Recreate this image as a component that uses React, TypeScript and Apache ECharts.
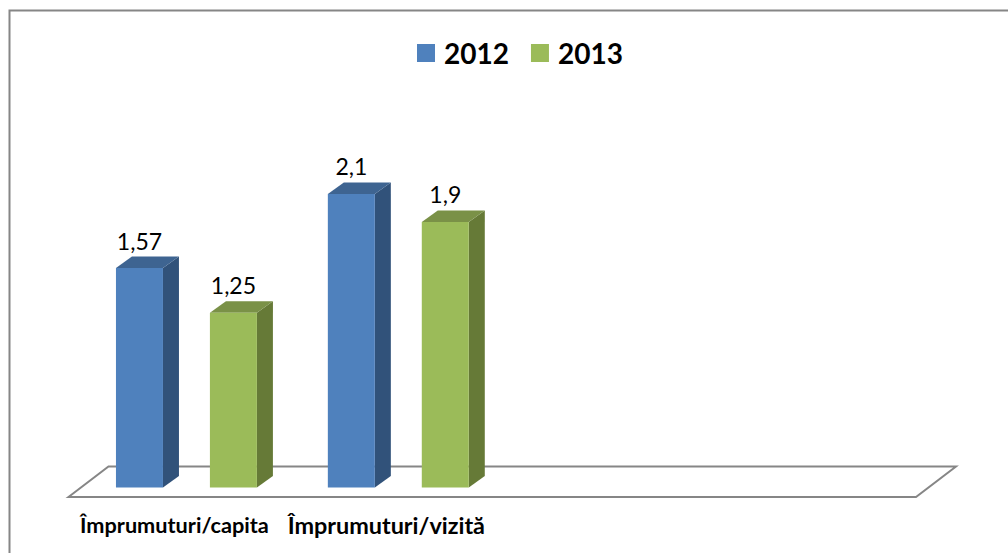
import React, { useEffect, useRef } from "react";
import * as echarts from "echarts";

const categories = ["Împrumuturi/capita", "Împrumuturi/vizită", "", ""];
const values2012 = [1.57, 2.1];
const values2013 = [1.25, 1.9];
const seriesNames = ["2012", "2013"];
const frontColors = ["#4F81BD", "#9BBB59"];
const topColors = ["#3E6491", "#7A9147"];
const sideColors = ["#31527A", "#667A37"];

const FLOOR_DX = 40;
const FLOOR_DY = 30.5;
const BAR_SHIFT_X = 12;
const BAR_SHIFT_Y = -9.5;
const BAR_W = 47;
const DEPTH_X = 16;
const DEPTH_Y = 11.5;

function barRenderer(seriesIndex: number) {
  return (_params: any, api: any) => {
    const cat = api.value(0);
    const val = api.value(1);
    const band = api.size([1, 0])[0];
    const [cx] = api.coord([cat, 0]);
    const [, y0] = api.coord([cat, 0]);
    const [, y1] = api.coord([cat, val]);
    const gap = band * 0.2217;
    const x = cx + BAR_SHIFT_X + (seriesIndex === 0 ? -gap : gap) - BAR_W / 2;
    const top = y1 + BAR_SHIFT_Y;
    const bottom = y0 + BAR_SHIFT_Y;
    return {
      type: "group",
      children: [
        {
          type: "polygon",
          shape: { points: [[x + BAR_W, top], [x + BAR_W + DEPTH_X, top - DEPTH_Y], [x + BAR_W + DEPTH_X, bottom - DEPTH_Y], [x + BAR_W, bottom]] },
          style: { fill: sideColors[seriesIndex] },
        },
        {
          type: "polygon",
          shape: { points: [[x, top], [x + DEPTH_X, top - DEPTH_Y], [x + BAR_W + DEPTH_X, top - DEPTH_Y], [x + BAR_W, top]] },
          style: { fill: topColors[seriesIndex] },
        },
        {
          type: "rect",
          shape: { x, y: top, width: BAR_W, height: bottom - top },
          style: { fill: frontColors[seriesIndex] },
        },
        {
          type: "text",
          x: x + BAR_W / 2,
          y: top - 16,
          style: {
            text: String(val).replace(".", ","),
            fontFamily: "Lato",
            fontSize: 23,
            fill: "#000",
            align: "center",
            verticalAlign: "bottom",
          },
        },
      ],
    };
  };
}

function floorRenderer(params: any, api: any) {
  const c = params.coordSys;
  const bottom = c.y + c.height;
  const left = c.x;
  const right = c.x + c.width;
  return {
    type: "polygon",
    shape: { points: [[left, bottom], [left + FLOOR_DX, bottom - FLOOR_DY], [right + FLOOR_DX, bottom - FLOOR_DY], [right, bottom]] },
    style: { fill: "#fff", stroke: "#868686", lineWidth: 2 },
    z2: 0,
  };
}

export default function App() {
  const ref = useRef<HTMLDivElement>(null);
  useEffect(() => {
    const chart = echarts.init(ref.current!, undefined, { renderer: "svg" });
    chart.setOption({
      animation: false,
      backgroundColor: "#fff",
      graphic: [
        {
          type: "polyline",
          shape: { points: [[9.5, 553], [9.5, 10.5], [1008, 10.5]] },
          style: { stroke: "#868686", lineWidth: 2, fill: "none" },
        },
      ],
      legend: {
        top: 34,
        left: 412,
        itemWidth: 18,
        itemHeight: 18,
        itemGap: 22,
        icon: "rect",
        data: seriesNames.map((name, i) => ({ name, itemStyle: { color: frontColors[i] } })),
        textStyle: { fontFamily: "Lato", fontWeight: "bold", fontSize: 28, color: "#000", padding: [2, 0, 0, 4] },
      },
      grid: { left: 68.5, width: 847.5, top: 77.6, height: 419.4 },
      xAxis: {
        type: "category",
        data: categories,
        axisLine: { show: false },
        axisTick: { show: false },
        axisLabel: {
          interval: 0,
          margin: 15,
          formatter: (value: string, index: number) => (index === 1 ? `{b|${value}}` : `{a|${value}}`),
          rich: {
            a: { fontFamily: "Lato", fontWeight: "bold", fontSize: 21.7, color: "#000", lineHeight: 26 },
            b: { fontFamily: "Lato", fontWeight: "bold", fontSize: 23.4, color: "#000", lineHeight: 26 },
          },
        },
      },
      yAxis: { type: "value", min: 0, max: 3, show: false, splitLine: { show: false } },
      series: [
        {
          type: "custom",
          name: "floor",
          silent: true,
          z: 1,
          renderItem: floorRenderer,
          data: [[0]],
          encode: { x: 0 },
        },
        {
          type: "custom",
          name: seriesNames[0],
          z: 2,
          renderItem: barRenderer(0),
          itemStyle: { color: frontColors[0] },
          data: values2012.map((v, i) => [i, v]),
          encode: { x: 0, y: 1 },
        },
        {
          type: "custom",
          name: seriesNames[1],
          z: 2,
          renderItem: barRenderer(1),
          itemStyle: { color: frontColors[1] },
          data: values2013.map((v, i) => [i, v]),
          encode: { x: 0, y: 1 },
        },
      ],
    });
    return () => chart.dispose();
  }, []);
  return <div ref={ref} style={{ position: "fixed", left: 0, top: 0, width: 1008, height: 553 }} />;
}
